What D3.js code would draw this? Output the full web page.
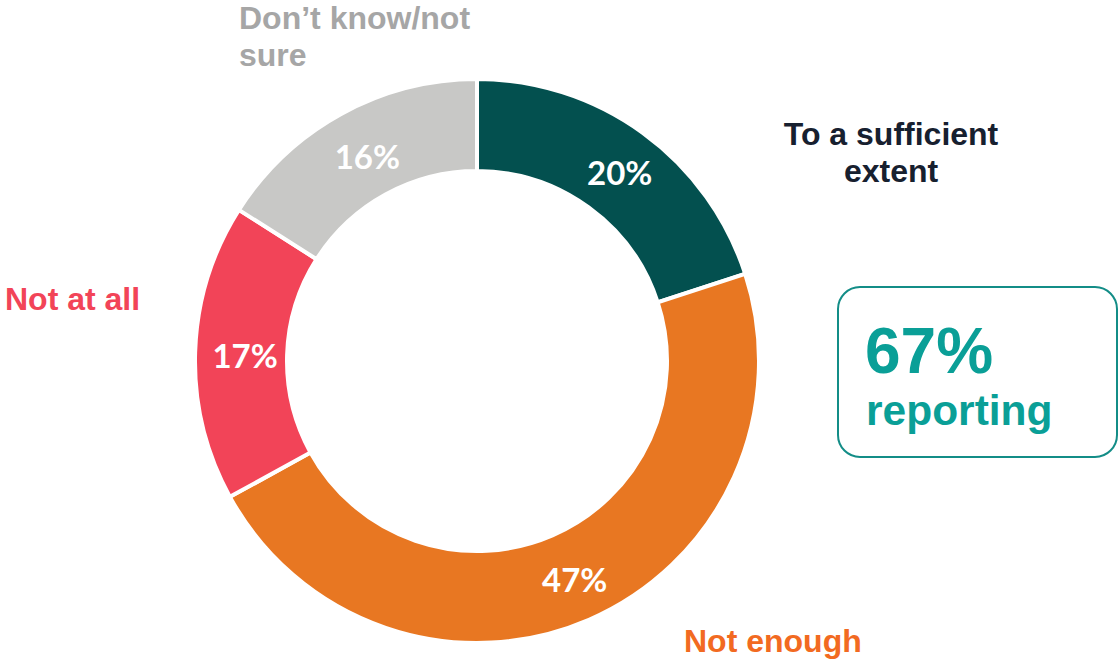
<!DOCTYPE html>
<html>
<head>
<meta charset="utf-8">
<script src="https://cdn.jsdelivr.net/npm/d3@7"></script>
<style>
  html, body { margin: 0; padding: 0; background: #fff; }
  svg { display: block; }
  .lbl { font-family: Arial, "Liberation Sans", Helvetica, sans-serif; font-weight: 700; }
  .pct { font-family: Lato, "Open Sans", sans-serif; font-weight: 700; }
</style>
</head>
<body>
<svg id="chart" width="1120" height="659"></svg>
<script>
// Survey responses, clockwise from 12 o'clock
const categories = ["To a sufficient extent", "Not enough", "Not at all", "Don’t know/not sure"];
const values = [20, 47, 17, 16];
const sliceColors = ["#03504f", "#e87722", "#f24458", "#c8c8c6"];
const reportingShare = "67%";

const svg = d3.select("#chart");
const cx = 477, cy = 361, outerR = 282, innerR = 190;

const pie = d3.pie().sort(null).value(d => d.value);
const arc = d3.arc().innerRadius(innerR).outerRadius(outerR);
const data = pie(categories.map((c, i) => ({ name: c, value: values[i], color: sliceColors[i] })));

const g = svg.append("g").attr("transform", `translate(${cx},${cy})`);
g.selectAll("path").data(data).join("path")
  .attr("d", arc)
  .attr("fill", d => d.data.color)
  .attr("stroke", "#fff")
  .attr("stroke-width", 4)
  .attr("stroke-linejoin", "miter");

g.selectAll("text.pct").data(data).join("text")
  .attr("class", "pct")
  .attr("transform", d => { const [x, y] = arc.centroid(d); return `translate(${x + 4},${y + 3})`; })
  .attr("text-anchor", "middle")
  .attr("dy", "0.36em")
  .attr("fill", "#fff")
  .attr("font-size", 33)
  .text(d => d.data.value + "%");

// Category labels
function label(lines, x, y, color, anchor) {
  const t = svg.append("text")
    .attr("class", "lbl")
    .attr("x", x).attr("y", y)
    .attr("fill", color)
    .attr("font-size", 32)
    .attr("text-anchor", anchor);
  lines.forEach((l, i) => t.append("tspan").attr("x", x).attr("dy", i === 0 ? 0 : 37).text(l));
}
label(["Don’t know/not", "sure"], 239, 29, "#a6a6a6", "start");
label(["To a sufficient", "extent"], 891, 145, "#17202f", "middle");
label(["Not at all"], 5, 310, "#f24458", "start");
label(["Not enough"], 684, 652, "#f26a21", "start");

// Summary callout
svg.append("rect")
  .attr("x", 838).attr("y", 287)
  .attr("width", 279).attr("height", 170)
  .attr("rx", 22).attr("ry", 22)
  .attr("fill", "#fff")
  .attr("stroke", "#138d87")
  .attr("stroke-width", 2);
svg.append("text")
  .attr("class", "lbl")
  .attr("x", 865).attr("y", 373)
  .attr("fill", "#0a9f97")
  .attr("font-size", 64)
  .text(reportingShare);
svg.append("text")
  .attr("class", "lbl")
  .attr("x", 866).attr("y", 425)
  .attr("fill", "#0a9f97")
  .attr("font-size", 42.5)
  .text("reporting");
</script>
</body>
</html>
